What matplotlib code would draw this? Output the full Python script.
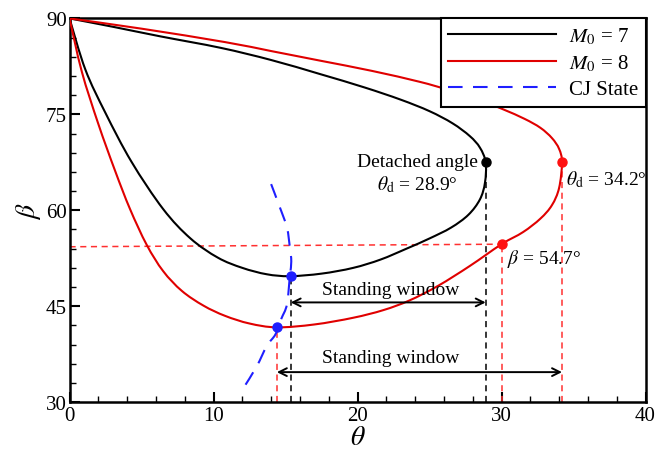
import matplotlib
matplotlib.use("Agg")
import matplotlib.pyplot as plt
import numpy as np
from matplotlib.lines import Line2D
from matplotlib.path import Path
from matplotlib.patches import PathPatch

plt.rcParams['font.family'] = ['Liberation Serif', 'DejaVu Serif']
plt.rcParams['mathtext.fontset'] = 'stix'

# theta-beta loops (start at (0, 90), lower branch first)
theta_m7 = [0, 1.1, 2.5, 4.3, 6.5, 8.4, 10.3, 12.0, 13.7, 15.3, 17.5,
            19.7, 21.6, 23.4, 25.0, 26.5, 27.7, 28.5, 28.85, 28.9,
            28.5, 27.8, 26.6, 25.0, 23.0, 20.5, 17.4, 14.0, 10.5, 6.3, 3.0, 0]
beta_m7 = [90, 82.0, 75.2, 67.6, 60.2, 55.6, 52.6, 51.0, 50.0, 49.7, 50.1,
           51.0, 52.3, 54.0, 55.6, 57.3, 59.3, 61.7, 64.3, 67.5,
           69.8, 71.6, 73.6, 75.5, 77.3, 79.2, 81.3, 83.5, 85.4, 87.2, 88.7, 90]

theta_m8 = [0, 0.85, 2.0, 3.16, 4.2, 5.36, 6.5, 7.8, 9.3, 10.8, 12.5, 14.4,
            17.0, 19.7, 21.8, 23.6, 25.6, 27.8, 30.0, 31.5, 32.7, 33.5, 34.0,
            34.2, 34.0, 33.5, 32.7, 31.6, 30.1, 28.3, 26.2, 24.3, 21.0, 17.4,
            14.0, 10.8, 5.0, 0]
beta_m8 = [90, 81.7, 73.5, 66.2, 60.2, 54.6, 50.5, 47.4, 45.1, 43.5, 42.3, 41.7,
           42.15, 43.2, 44.4, 45.9, 48.2, 51.3, 54.7, 56.6, 58.7, 60.8, 63.5,
           67.5, 69.6, 71.3, 72.9, 74.3, 75.8, 77.4, 78.9, 80.1, 81.8, 83.4,
           84.9, 86.3, 88.4, 90]

theta_cj = [14.0, 14.6, 15.1, 15.3, 15.4, 15.3, 15.1, 14.7, 14.3, 13.7, 13.0, 12.1]
beta_cj = [64.1, 60.5, 57.3, 54.2, 52.0, 49.7, 45.3, 43.0, 40.6, 38.8, 35.6, 32.3]

# marked points
cj_theta = [15.36, 14.4]
cj_beta = [49.7, 41.7]
det7 = (28.9, 67.5)
det8 = (34.2, 67.5)
beta_pt = (30.0, 54.7)
window_m7 = (15.36, 28.9, 45.6)
window_m8 = (14.4, 34.2, 34.7)


def smooth_path(xs, ys):
    """Catmull-Rom curve through the points, as cubic Bezier segments."""
    p = np.column_stack([xs, ys]).astype(float)
    verts = [p[0]]
    codes = [Path.MOVETO]
    n = len(p)
    for i in range(n - 1):
        p0 = p[i - 1] if i > 0 else p[i]
        p3 = p[i + 2] if i + 2 < n else p[i + 1]
        c1 = p[i] + (p[i + 1] - p0) / 6.0
        c2 = p[i + 1] - (p3 - p[i]) / 6.0
        verts += [c1, c2, p[i + 1]]
        codes += [Path.CURVE4] * 3
    return Path(verts, codes)


fig = plt.figure(figsize=(6.56, 4.52), dpi=100)
ax = fig.add_axes([0.106, 0.108, 0.878, 0.849])

ax.add_patch(PathPatch(smooth_path(theta_m7, beta_m7), fc='none', ec='black',
                       lw=1.5, zorder=3))
ax.add_patch(PathPatch(smooth_path(theta_m8, beta_m8), fc='none', ec='#e00000',
                       lw=1.5, zorder=3))
ax.add_patch(PathPatch(smooth_path(theta_cj, beta_cj), fc='none', ec='#1f1fff',
                       lw=1.5, ls=(0, (7, 5)), zorder=3))

# guide lines
dash = (0, (4, 3))
ax.plot([cj_theta[0]] * 2, [30, cj_beta[0]], color='black', lw=1.1, ls=dash, zorder=2)
ax.plot([det7[0]] * 2, [30, det7[1]], color='black', lw=1.1, ls=dash, zorder=2)
ax.plot([cj_theta[1]] * 2, [30, cj_beta[1]], color='#ff3030', lw=1.1, ls=dash, zorder=2)
ax.plot([beta_pt[0]] * 2, [30, beta_pt[1]], color='#ff3030', lw=1.1, ls=dash, zorder=2)
ax.plot([det8[0]] * 2, [30, det8[1]], color='#ff3030', lw=1.1, ls=dash, zorder=2)
ax.plot([0, beta_pt[0]], [54.3, beta_pt[1]], color='#ff3030', lw=1.1, ls=dash, zorder=2)

ax.plot(cj_theta, cj_beta, 'o', color='#1f1fff', ms=6.5, zorder=5)
ax.plot(*det7, 'o', color='black', ms=6.5, zorder=5)
ax.plot(*det8, 'o', color='#ff1010', ms=6.5, zorder=5)
ax.plot(*beta_pt, 'o', color='#ff1010', ms=6.5, zorder=5)

for x0, x1, y in (window_m7, window_m8):
    ax.annotate('', xy=(x0, y), xytext=(x1, y),
                arrowprops=dict(arrowstyle='<->', color='black', lw=1.4,
                                mutation_scale=14, shrinkA=0, shrinkB=0))
ax.text(22.3, 47.6, 'Standing window', fontsize=14, ha='center', va='center')
ax.text(22.3, 37.0, 'Standing window', fontsize=14, ha='center', va='center')

ax.text(24.15, 67.6, 'Detached angle', fontsize=14, ha='center', va='center')
ax.text(24.15, 64.1, r'$\theta_{\rm d}$ = 28.9°', fontsize=14, ha='center', va='center')
ax.text(34.45, 65.0, r'$\theta_{\rm d}$ = 34.2°', fontsize=14, ha='left', va='center')
ax.text(30.4, 52.6, r'$\beta$ = 54.7°', fontsize=14, ha='left', va='center')

ax.set_xlim(0, 40)
ax.set_ylim(30, 90)
ax.set_xticks([0, 10, 20, 30, 40])
ax.set_yticks([30, 45, 60, 75, 90])
ax.set_xticks(range(0, 41, 2), minor=True)
ax.set_yticks(range(30, 91, 3), minor=True)
ax.tick_params(which='both', direction='in', labelsize=15, width=1.5)
ax.tick_params(axis='x', pad=3)
ax.tick_params(axis='y', pad=2)
ax.tick_params(which='major', length=7)
ax.tick_params(which='minor', length=4, width=1)
for sp in ax.spines.values():
    sp.set_linewidth(1.8)

ax.set_xlabel(r'$\theta$', fontsize=20, labelpad=0)
ax.set_ylabel(r'$\beta$', fontsize=20, labelpad=2)

handles = [Line2D([], [], color='black', lw=1.5),
           Line2D([], [], color='#e00000', lw=1.5),
           Line2D([], [], color='#1f1fff', lw=1.5, ls=(0, (7, 5)))]
leg = ax.legend(handles, [r'$M_0$ = 7', r'$M_0$ = 8', 'CJ State'],
                loc='upper right', fontsize=15, handlelength=5.2,
                labelspacing=0.3, borderaxespad=0, fancybox=False,
                framealpha=1, borderpad=0.35, handletextpad=0.6)
leg.get_frame().set_edgecolor('black')
leg.get_frame().set_linewidth(1.5)

fig.savefig('out.png', dpi=100)
